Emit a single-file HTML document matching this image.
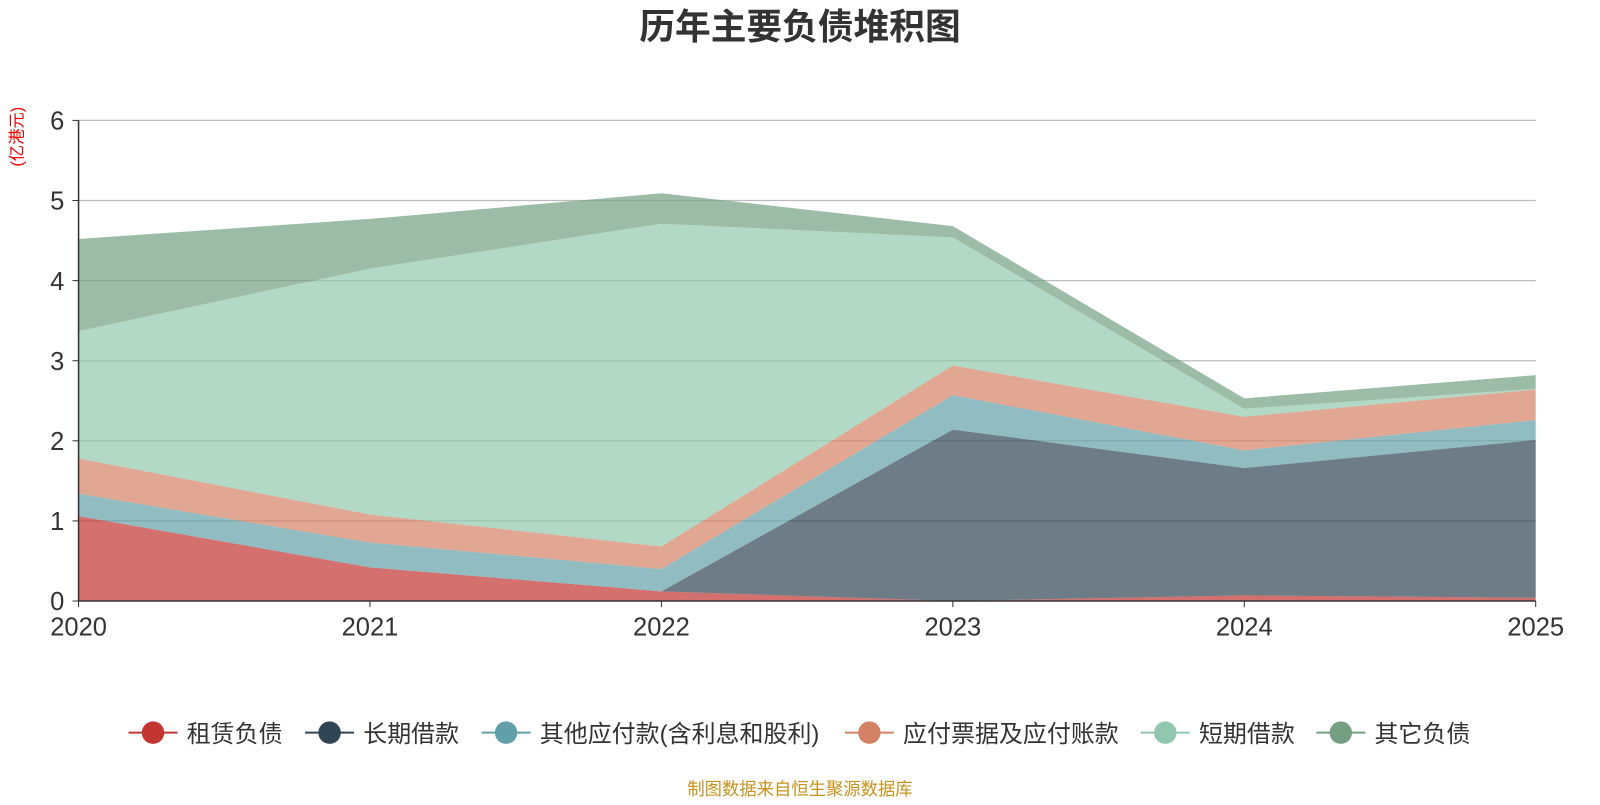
<!DOCTYPE html>
<html><head><meta charset="utf-8"><style>
body{margin:0;background:#fff;width:1600px;height:800px;overflow:hidden;font-family:"Liberation Sans","Noto Sans CJK SC",sans-serif}
</style></head><body>
<svg width="1600" height="800" font-family="Liberation Sans, Noto Sans CJK SC, sans-serif">
<g transform="scale(1.0204)">
<text x="784" y="38" text-anchor="middle" font-size="35" font-weight="bold" fill="#333">历年主要负债堆积图</text>
<text transform="translate(22,134) rotate(-90)" text-anchor="middle" font-size="16" fill="#e00">(亿港元)</text>
<g id="grid"></g><g id="areas"></g><g id="axes"></g><g id="legend"></g>
<text x="784" y="779" text-anchor="middle" font-size="17" fill="#c8921e">制图数据来自恒生聚源数据库</text>
</g>
</svg>
<script>
const years=["2020","2021","2022","2023","2024","2025"];
const names=["租赁负债","长期借款","其他应付款(含利息和股利)","应付票据及应付账款","短期借款","其它负债"];
const lease=[1.06,0.42,0.12,0,0.07,0.04];
const longLoan=[0,0,0,2.14,1.59,1.97];
const otherPay=[0.28,0.31,0.28,0.43,0.22,0.25];
const payables=[0.44,0.35,0.28,0.37,0.42,0.38];
const shortLoan=[1.59,3.07,4.03,1.6,0.1,0.01];
const otherLiab=[1.15,0.62,0.38,0.14,0.13,0.17];
const yTicks=[0,1,2,3,4,5,6];
const series=[lease,longLoan,otherPay,payables,shortLoan,otherLiab];
const colors=["#c23531","#2f4554","#61a0a8","#d48265","#91c7ae","#749f83"];
const slugs=["lease","long-term-loan","other-payables","notes-payable","short-term-loan","other-liabilities"];
const NS="http://www.w3.org/2000/svg";
const x0=77,x1=1505,yb=589,yt=118;
const X=i=>x0+(x1-x0)*i/(years.length-1);
const Y=v=>yb-(yb-yt)*v/6;
function mk(t,a,p){const e=document.createElementNS(NS,t);for(const k in a)e.setAttribute(k,a[k]);p.appendChild(e);return e;}
const grid=document.getElementById('grid'),areas=document.getElementById('areas'),axes=document.getElementById('axes'),legend=document.getElementById('legend');
yTicks.forEach(v=>{
 if(v>0){const l=mk('line',{x1:x0,x2:x1,y1:Y(v),y2:Y(v),stroke:'#bbb','stroke-width':1.2},grid);
 }
 const t=mk('text',{x:x0-14,y:Y(v)+9,'text-anchor':'end','font-size':25,fill:'#333'},axes);t.textContent=v;
 
 mk('line',{x1:x0-6,x2:x0,y1:Y(v),y2:Y(v),stroke:'#333'},axes);
});
let cum=years.map(()=>0);
series.forEach((s,k)=>{
 const lo=cum.slice();cum=cum.map((c,i)=>c+s[i]);
 let d='M'+cum.map((c,i)=>X(i)+','+Y(c)).join('L');
 for(let i=years.length-1;i>=0;i--)d+='L'+X(i)+','+Y(lo[i]);
 const p=mk('path',{d:d+'Z',fill:colors[k],'fill-opacity':0.7},areas);
 
});
mk('line',{x1:x0,x2:x0,y1:yt,y2:yb,stroke:'#333','stroke-width':1.5},axes);
mk('line',{x1:x0,x2:x1,y1:yb,y2:yb,stroke:'#333','stroke-width':1.5},axes);
years.forEach((y,i)=>{
 mk('line',{x1:X(i),x2:X(i),y1:yb,y2:yb+6,stroke:'#333'},axes);
 const t=mk('text',{x:X(i),y:623,'text-anchor':'middle','font-size':25,fill:'#333'},axes);t.textContent=y;
 
});
const lx=[126,299,472,828,1118,1290];
names.forEach((n,k)=>{
 const g=mk('g',{},legend);
 
 mk('line',{x1:lx[k],x2:lx[k]+48,y1:718,y2:718,stroke:colors[k],'stroke-width':2},g);
 mk('circle',{cx:lx[k]+24,cy:718,r:11,fill:colors[k]},g);
 const t=mk('text',{x:lx[k]+57,y:727,'font-size':23.5,fill:'#333'},g);t.textContent=n;
});
</script>
</body></html>
